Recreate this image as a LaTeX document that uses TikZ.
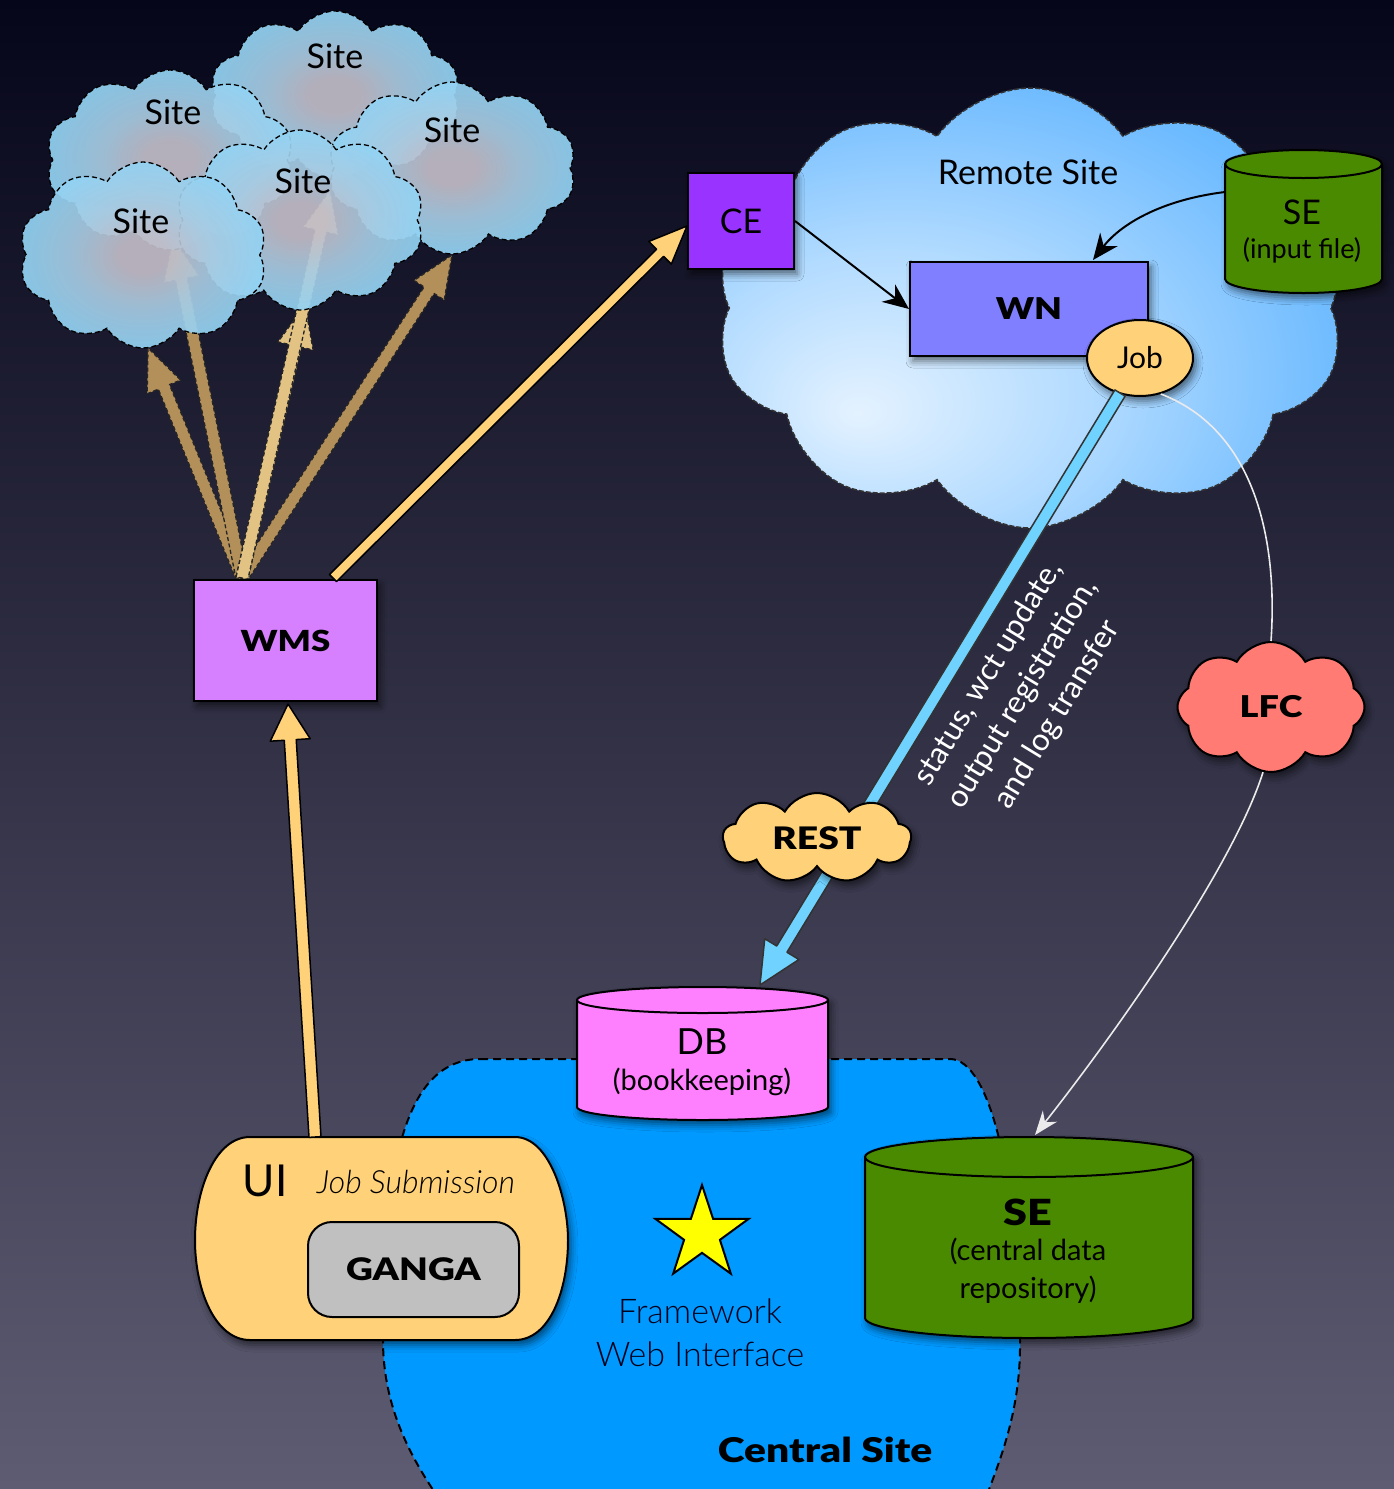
\documentclass[tikz,border=0pt]{standalone}
\usepackage{fontspec}
\setmainfont{Lato}
\newfontfamily\lblack{Lato Black}
\newfontfamily\llight{Lato Light}
\usetikzlibrary{shapes.symbols,shapes.geometric,calc,arrows.meta,shadows.blur}

\definecolor{bgtop}{HTML}{06061A}
\definecolor{bgmid}{HTML}{25233F}
\definecolor{bgbot}{HTML}{5E5C72}
\definecolor{sitec}{HTML}{C2BDC8}
\definecolor{sitem}{HTML}{A8CBE2}
\definecolor{siteo}{HTML}{92D3F4}
\definecolor{remc}{HTML}{E4F2FF}
\definecolor{remm}{HTML}{B2DBFF}
\definecolor{remn}{HTML}{6CBAFF}
\definecolor{remo}{HTML}{4AABFF}
\definecolor{cepurple}{HTML}{9933FF}
\definecolor{wnblue}{HTML}{7F7FFF}
\definecolor{jobor}{HTML}{FFD27A}
\definecolor{segreen}{HTML}{4A8A00}
\definecolor{wmsviolet}{HTML}{D680FF}
\definecolor{dbpink}{HTML}{FF80FF}
\definecolor{central}{HTML}{0099FF}
\definecolor{lfcred}{HTML}{FF7B73}
\definecolor{gangagrey}{HTML}{C0C0C0}
\definecolor{tanA}{HTML}{B39059}
\definecolor{tanB}{HTML}{E3C384}
\definecolor{restblue}{HTML}{6FD2FF}
\definecolor{starY}{HTML}{FFFF00}

\pgfdeclareradialshading{siteshade}{\pgfpoint{0bp}{0bp}}{color(0bp)=(sitec); color(5bp)=(sitec); color(14bp)=(sitem); color(25bp)=(siteo); color(70bp)=(siteo)}
\pgfdeclareradialshading{remshade}{\pgfpoint{-14bp}{-12bp}}{color(0bp)=(remc); color(16bp)=(remm); color(34bp)=(remn); color(46bp)=(remo); color(80bp)=(remo)}

\newcommand\fs[1]{\fontsize{#1}{#1}\selectfont}
\newcommand\bw[1]{\scalebox{1.2}[1]{\lblack #1}}

% fat arrow: #1 style, #2 from, #3 to, #4 half shaft, #5 head length, #6 head half width
\newcommand\fatarrow[6]{%
  \coordinate (fahead) at ($(#3)!#5!(#2)$);
  \path[#1] ($(#2)!#4!90:(#3)$) -- ($(fahead)!#4!90:(#3)$) -- ($(fahead)!#6!90:(#3)$) -- (#3)
    -- ($(fahead)!#6!-90:(#3)$) -- ($(fahead)!#4!-90:(#3)$) -- ($(#2)!#4!-90:(#3)$) -- cycle;
}

% cylinder: #1 x1, #2 ytop, #3 x2, #4 ybot, #5 ry, #6 fill
\newcommand\drawcyl[6]{%
  \pgfmathsetmacro\cxa{#1}\pgfmathsetmacro\cxb{#3}%
  \pgfmathsetmacro\cxc{(#1+#3)/2}\pgfmathsetmacro\crx{(#3-#1)/2}%
  \pgfmathsetmacro\cyt{#2+#5}\pgfmathsetmacro\cyb{#4-#5}%
  \pgfmathsetmacro\cky{0.5523*#5}\pgfmathsetmacro\ckx{0.5523*\crx}%
  \pgfmathsetmacro\cybk{\cyb+\cky}\pgfmathsetmacro\cybb{#4}%
  \pgfmathsetmacro\cxl{\cxc-\ckx}\pgfmathsetmacro\cxr{\cxc+\ckx}%
  \pgfmathsetmacro\cytk{\cyt-\cky}\pgfmathsetmacro\cytd{\cyt+\cky}%
  \pgfmathsetmacro\cyrim{#2+2*#5}%
  \draw[cylstyle, fill=#6] (\cxa,\cyt) -- (\cxa,\cyb) .. controls (\cxa,\cybk) and (\cxl,\cybb) .. (\cxc,\cybb)
    .. controls (\cxr,\cybb) and (\cxb,\cybk) .. (\cxb,\cyb) -- (\cxb,\cyt)
    .. controls (\cxb,\cytk) and (\cxr,#2) .. (\cxc,#2) .. controls (\cxl,#2) and (\cxa,\cytk) .. (\cxa,\cyt) -- cycle;
  \draw[cylrim] (\cxa,\cyt) .. controls (\cxa,\cytd) and (\cxl,\cyrim) .. (\cxc,\cyrim)
    .. controls (\cxr,\cyrim) and (\cxb,\cytd) .. (\cxb,\cyt);
}

\begin{document}
\begin{tikzpicture}[x=1pt,y=-1pt,
  shad/.style={blur shadow={shadow xshift=3pt, shadow yshift=-5pt, shadow blur radius=7pt, shadow opacity=55}},
  box/.style={draw=black, line width=2pt, inner sep=0pt, shad},
  cylstyle/.style={draw=black, line width=2pt, shad},
  cylrim/.style={draw=black, line width=2pt},
  sitecloud/.style={cloud, cloud puffs=10, cloud puff arc=115, aspect=1.35, minimum width=248pt, minimum height=180pt,
     inner sep=0pt, shade, shading=siteshade, fill opacity=0.92, draw=black, line width=1.3pt, dash pattern=on 5pt off 3pt},
  sitelbl/.style={font=\fs{34}, text=black},
  sarrA/.style={fill=tanA, draw=black!85, line width=1.3pt, dash pattern=on 4pt off 2.5pt, line join=round},
  sarrB/.style={fill=tanB, draw=black!85, line width=1.3pt, dash pattern=on 4pt off 2.5pt, line join=round},
  farr/.style={fill=jobor, draw=black, line width=1.5pt, line join=round},
  barr/.style={fill=restblue, draw=black!80, line width=1.5pt, line join=round},
  thinarr/.style={draw=black, line width=2pt, -{Stealth[length=26pt, width=22pt]}},
  wline/.style={draw=white!92!black, line width=1.6pt},
  txt/.style={text=black, inner sep=0pt}
]
% background
\shade[top color=bgtop, middle color=bgmid, bottom color=bgbot] (0,0) rectangle (1394,1489);
\useasboundingbox (0,0) rectangle (1394,1489);

% central site region
\path[draw=black, line width=2pt, dash pattern=on 8pt off 5pt, fill=central]
  (480,1059) -- (950,1059) .. controls (990,1059) and (1018,1180) .. (1020,1340)
  .. controls (1021,1410) and (1000,1460) .. (985,1500) -- (440,1500)
  .. controls (405,1450) and (383,1400) .. (383,1340)
  .. controls (383,1180) and (400,1059) .. (480,1059) -- cycle;
\node[txt, font=\fs{34}] (centrallbl) at (825,1450) {\bw{Central Site}};

% ---------- site arrows ----------
\coordinate (fan) at (242,578);
\coordinate (s1) at (148,348);
\coordinate (s2) at (173,238);
\coordinate (s3) at (305,305);
\coordinate (s4) at (330,190);
\coordinate (s5) at (452,255);
\fatarrow{sarrA}{fan}{s1}{6pt}{42pt}{18pt}
\fatarrow{sarrA}{fan}{s2}{6pt}{42pt}{18pt}
\fatarrow{sarrA}{fan}{s5}{6pt}{42pt}{18pt}
\fatarrow{sarrB}{fan}{s3}{6pt}{42pt}{18pt}
\fatarrow{sarrB}{fan}{s4}{6pt}{42pt}{18pt}

% ---------- site clouds ----------
\node[sitecloud, minimum width=250pt, minimum height=168pt] (site1) at (335,95) {};
\node[sitecloud] (site2) at (170,160) {};
\node[sitecloud, minimum height=172pt] (site3) at (452,168) {};
\node[sitecloud] (site4) at (300,220) {};
\node[sitecloud, minimum height=186pt] (site5) at (143,255) {};
\node[sitelbl] (site1l) at (335,56) {Site};
\node[sitelbl] (site2l) at (173,112) {Site};
\node[sitelbl] (site3l) at (452,130) {Site};
\node[sitelbl] (site4l) at (303,181) {Site};
\node[sitelbl] (site5l) at (141,221) {Site};

% ---------- remote site ----------
\node[cloud, cloud puffs=10, cloud puff arc=110, aspect=1.5, minimum width=630pt, minimum height=440pt,
      inner sep=0pt, shade, shading=remshade, draw=black!80, line width=1.5pt, dash pattern=on 5pt off 2pt] (remote) at (1030,308) {};
\node[txt, font=\fs{34}] (remotelbl) at (1028,172) {Remote Site};

\drawcyl{1225}{150}{1382}{293}{14}{segreen}
\node[txt, font=\fs{34}] (sein) at (1302,212) {SE};
\node[txt, font=\fs{27}] (seinsub) at (1302,250) {(input file)};
\coordinate (seinw) at (1225,192);

\node[box, fill=cepurple, minimum width=106pt, minimum height=96pt, font=\fs{34}] (ce) at (741,221) {CE};
\node[box, fill=wnblue, minimum width=238pt, minimum height=94pt, font=\fs{30}] (wn) at (1029,309) {\bw{WN}};
\node[ellipse, draw=black, line width=2pt, fill=jobor, minimum width=106pt, minimum height=76pt, inner sep=0pt, font=\fs{30}, shad] (job) at (1140,358) {Job};

\draw[thinarr] (ce.east) -- (wn.west);
\coordinate (wnin) at (1093,260);
\draw[thinarr] (seinw) .. controls (1160,200) and (1120,225) .. (wnin);

% ---------- WMS ----------
\node[box, fill=wmsviolet, minimum width=183pt, minimum height=121pt, font=\fs{29}] (wms) at (285.5,640.5) {\bw{WMS}};
\coordinate (wmsout) at (333,578);
\coordinate (cein) at (687,226);
\fatarrow{farr}{wmsout}{cein}{5pt}{38pt}{16pt}

% ---------- job -> DB ----------
\coordinate (jobout) at (1120,393);
\coordinate (dbin) at (760,985);
\fatarrow{barr}{jobout}{dbin}{6pt}{42pt}{20pt}
\node[rotate=58.7, text=white, align=center, font=\fontsize{31}{40}\selectfont] (msglbl) at (1023,694)
  {status, wct update,\\output registration,\\and log transfer};
\node[cloud, cloud puffs=9, cloud puff arc=120, aspect=2.1, minimum width=188pt, minimum height=90pt, inner sep=0pt,
      fill=jobor, draw=black, line width=2pt, font=\fs{31}, shad] (rest) at (817,838) {\bw{REST}};

% ---------- LFC ----------
\node[cloud, cloud puffs=8, cloud puff arc=120, aspect=1.45, minimum width=187pt, minimum height=130pt, inner sep=0pt,
      fill=lfcred, draw=black, line width=2pt, font=\fs{30}, shad] (lfc) at (1271,707) {\bw{LFC}};
\draw[wline] (job.-60) .. controls (1255,430) and (1278,540) .. (lfc.north);
\coordinate (secin) at (1035,1135);
\draw[wline, -{Stealth[length=24pt, width=18pt]}] (lfc.-97) .. controls (1232,870) and (1110,1040) .. (secin);

% ---------- DB ----------
\drawcyl{577}{987}{828}{1120}{13}{dbpink}
\node[txt, font=\fs{36}] (db) at (702,1042) {DB};
\node[txt, font=\fs{29}] (dbsub) at (702,1082) {(bookkeeping)};

% ---------- SE central ----------
\drawcyl{865}{1137}{1193}{1338}{20}{segreen}
\node[txt, font=\fs{36}] (sec) at (1028,1212) {\bw{SE}};
\node[txt, align=center, font=\fontsize{29}{38}\selectfont] (secsub) at (1028,1271) {(central data\\repository)};

% ---------- star ----------
\node[star, star points=5, star point ratio=2.6, minimum size=98pt, inner sep=0pt, fill=starY, draw=black, line width=2pt] (star) at (702,1234) {};
\node[txt, align=center, font=\llight\fontsize{34}{43}\selectfont, text=black!90!blue] (fwlbl) at (700,1333) {Framework\\Web Interface};

% ---------- UI ----------
\path[draw=black, line width=2pt, fill=jobor, shad]
  (250,1137) -- (515,1137) .. controls (550,1137) and (568,1200) .. (568,1240)
  .. controls (568,1290) and (550,1340) .. (515,1340) -- (250,1340)
  .. controls (215,1340) and (195,1290) .. (195,1240)
  .. controls (195,1190) and (215,1137) .. (250,1137) -- cycle;
\node[txt, font=\fs{44}] (ui) at (265,1181) {UI};
\node[txt, font=\llight\itshape\fs{32}] (jobsub) at (416,1182) {Job Submission};
\node[draw=black, line width=2pt, fill=gangagrey, rounded corners=24pt, minimum width=211pt, minimum height=95pt, inner sep=0pt, font=\fs{31}] (ganga) at (413.5,1269.5) {\bw{GANGA}};

\coordinate (uiout) at (315,1137);
\coordinate (wmsin) at (288,704);
\fatarrow{farr}{uiout}{wmsin}{6pt}{36pt}{20pt}
\end{tikzpicture}
\end{document}
